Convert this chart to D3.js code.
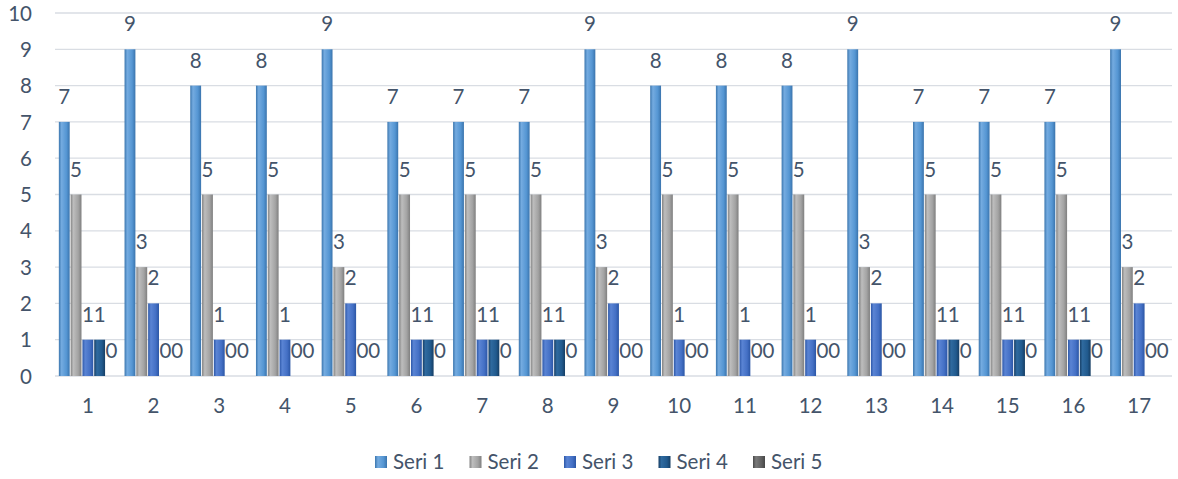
<!DOCTYPE html>
<html><head><meta charset="utf-8">
<script src="https://cdn.jsdelivr.net/npm/d3@7"></script>
<style>body{margin:0;background:#fff}svg{display:block}</style>
</head><body>
<svg id="c" width="1178" height="479"></svg>
<script>
const categories = ["1","2","3","4","5","6","7","8","9","10","11","12","13","14","15","16","17"];
const seriesNames = ["Seri 1","Seri 2","Seri 3","Seri 4","Seri 5"];
const seri1 = [7,9,8,8,9,7,7,7,9,8,8,8,9,7,7,7,9];
const seri2 = [5,3,5,5,3,5,5,5,3,5,5,5,3,5,5,5,3];
const seri3 = [1,2,1,1,2,1,1,1,2,1,1,1,2,1,1,1,2];
const seri4 = [1,0,0,0,0,1,1,1,0,0,0,0,0,1,1,1,0];
const seri5 = [0,0,0,0,0,0,0,0,0,0,0,0,0,0,0,0,0];
const yTicks = [0,1,2,3,4,5,6,7,8,9,10];
const seriesValues = [seri1, seri2, seri3, seri4, seri5];
const colors = [
  ["#3b76ae","#74abe0","#5596d3","#3a74ad"],
  ["#838383","#bdbdbd","#a3a3a3","#7f7f7f"],
  ["#2c57a8","#5a84d4","#4470c5","#2b56a5"],
  ["#173f66","#2f6a9f","#215a8e","#163e64"],
  ["#4a4a4a","#7a7a7a","#606060","#474747"]
];
const textColor = "#44546A";
const font = "Lato, 'Open Sans', sans-serif";
const fs = 20.5;

const svg = d3.select("#c");
const L = 55, R = 1172, T = 13, B = 376;
const x0 = d3.scaleBand().domain(categories).range([L, R]).paddingInner(0.117).paddingOuter(0.0585);
const x1 = d3.scaleBand().domain(seriesNames).range([0, x0.bandwidth()]).paddingInner(0.08);
const y = d3.scaleLinear().domain([0, 10]).range([B, T]);

const defs = svg.append("defs");
colors.forEach((c, i) => {
  const g = defs.append("linearGradient").attr("id", "g" + i).attr("x1", "0").attr("x2", "1").attr("y1", "0").attr("y2", "0");
  g.append("stop").attr("offset", "0%").attr("stop-color", c[0]);
  g.append("stop").attr("offset", "25%").attr("stop-color", c[1]);
  g.append("stop").attr("offset", "70%").attr("stop-color", c[2]);
  g.append("stop").attr("offset", "100%").attr("stop-color", c[3]);
});

// gridlines
svg.append("g").selectAll("line").data(yTicks).join("line")
  .attr("x1", L).attr("x2", R).attr("y1", d => y(d)).attr("y2", d => y(d))
  .attr("stroke", "#D9DDE3").attr("stroke-width", 1.3);

// y labels
const yAxis = d3.axisLeft(y).tickValues(yTicks).tickSize(0).tickPadding(0).tickFormat(d3.format("d"));
const ya = svg.append("g").attr("transform", `translate(32,0)`).call(yAxis);
ya.select(".domain").remove();
ya.selectAll("text").attr("fill", textColor).attr("font-size", fs).attr("font-family", font).attr("dy", "0.35em");

// x labels
const xAxis = d3.axisBottom(x0).tickSize(0).tickPadding(0);
const xa = svg.append("g").attr("transform", `translate(0,${B + 22})`).call(xAxis);
xa.select(".domain").remove();
xa.selectAll("text").attr("fill", textColor).attr("font-size", fs).attr("font-family", font).attr("dy", "0.71em");

// bars
const groups = svg.append("g").selectAll("g").data(categories).join("g")
  .attr("transform", d => `translate(${x0(d)},0)`);
const cellData = (cat, ci) => seriesNames.map((s, si) => ({s, si, v: seriesValues[si][ci]}));
groups.each(function(cat, ci) {
  const g = d3.select(this);
  const data = cellData(cat, ci);
  g.selectAll("rect").data(data.filter(d => d.v > 0)).join("rect")
    .attr("x", d => x1(d.s)).attr("width", x1.bandwidth())
    .attr("y", d => y(d.v)).attr("height", d => y(0) - y(d.v))
    .attr("fill", d => `url(#g${d.si})`);
  g.selectAll("text").data(data).join("text")
    .attr("x", d => x1(d.s) + x1.bandwidth() / 2)
    .attr("y", d => y(d.v) - 18)
    .attr("text-anchor", "middle")
    .attr("fill", textColor).attr("font-size", fs).attr("font-family", font)
    .text(d => d.v);
});

// legend
const legend = svg.append("g").selectAll("g").data(seriesNames).join("g")
  .attr("transform", (d, i) => `translate(${375 + i * 94.5},456)`);
legend.append("rect").attr("width", 12).attr("height", 12).attr("fill", (d, i) => `url(#g${i})`);
legend.append("text").attr("x", 18).attr("y", 12.5).attr("fill", textColor)
  .attr("font-size", fs).attr("font-family", font).text(d => d);
</script>
</body></html>
